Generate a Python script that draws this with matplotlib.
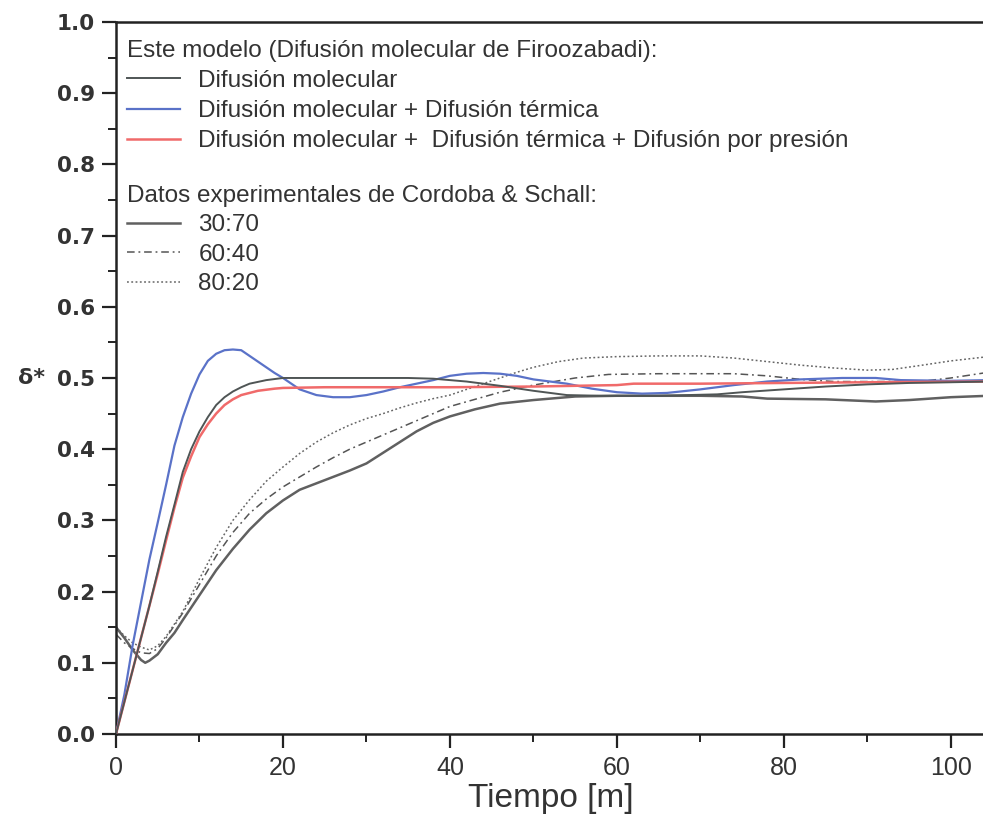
import matplotlib
matplotlib.use("Agg")
import matplotlib.pyplot as plt
from matplotlib.ticker import MultipleLocator

# ---------------- data ----------------
x_mol = [0, 1, 2, 3, 4, 5, 6, 7, 8, 9, 10, 11, 12, 13, 14, 15, 16, 18, 20, 25, 30, 35, 38,
         42, 46, 50, 54, 58, 65, 72, 75, 80, 85, 90, 95, 100, 104.5]
y_mol = [0, 0.045, 0.09, 0.135, 0.18, 0.228, 0.277, 0.322, 0.368, 0.4, 0.425, 0.445, 0.462,
         0.473, 0.481, 0.487, 0.492, 0.497, 0.5, 0.5, 0.5, 0.5, 0.499,
         0.495, 0.489, 0.482, 0.476, 0.475, 0.475, 0.477, 0.48, 0.484, 0.488, 0.491, 0.493, 0.494, 0.495]

x_term = [0, 1, 2, 3, 4, 5, 6, 7, 8, 9, 10, 11, 12, 13, 14, 15, 16, 17, 18, 19, 20, 22, 24, 26,
          28, 30, 32, 34, 36, 38, 40, 42, 44, 46, 48, 50, 54, 57, 60, 63, 66, 70, 74, 78, 82,
          87, 91, 94, 100, 104.5]
y_term = [0, 0.055, 0.125, 0.185, 0.245, 0.297, 0.35, 0.405, 0.445, 0.478, 0.505, 0.524, 0.534,
          0.539, 0.54, 0.539, 0.531, 0.523, 0.515, 0.507, 0.5, 0.484, 0.476, 0.473, 0.473, 0.476,
          0.481, 0.487, 0.492, 0.497, 0.503, 0.506, 0.507, 0.506, 0.503, 0.498, 0.492, 0.485,
          0.48, 0.478, 0.479, 0.484, 0.49, 0.495, 0.498, 0.5, 0.5, 0.497, 0.496, 0.497]

x_pres = [0, 1, 2, 3, 4, 5, 6, 7, 8, 9, 10, 11, 12, 13, 14, 15, 16, 17, 19, 20, 25, 30, 40, 50,
          60, 62, 70, 80, 90, 104.5]
y_pres = [0, 0.045, 0.09, 0.135, 0.18, 0.225, 0.272, 0.318, 0.36, 0.39, 0.417, 0.435, 0.45,
          0.462, 0.47, 0.476, 0.479, 0.482, 0.485, 0.486, 0.487, 0.487, 0.487, 0.488,
          0.49, 0.492, 0.492, 0.493, 0.494, 0.495]

x_e3070 = [0, 1, 2, 3, 3.5, 4, 5, 6, 7, 8, 10, 12, 14, 16, 18, 20, 22, 24, 26, 28, 30, 32, 34,
           36, 38, 40, 43, 46, 50, 55, 60, 70, 75, 78, 85, 91, 95, 100, 104.5]
y_e3070 = [0.15, 0.135, 0.118, 0.104, 0.1, 0.103, 0.112, 0.128, 0.142, 0.16, 0.195, 0.23,
           0.26, 0.287, 0.31, 0.328, 0.343, 0.352, 0.361, 0.37, 0.38, 0.395, 0.41, 0.425,
           0.437, 0.446, 0.456, 0.464, 0.469, 0.474, 0.475, 0.475, 0.474, 0.471, 0.47, 0.467,
           0.469, 0.473, 0.475]

x_e6040 = [0, 1, 2, 3, 4, 5, 6, 8, 10, 12, 14, 16, 18, 20, 22, 24, 26, 28, 30, 32, 34, 36, 38,
           40, 43, 46, 50, 55, 59, 65, 70, 74, 78, 82, 86, 92, 97, 100, 104.5]
y_e6040 = [0.14, 0.128, 0.12, 0.114, 0.113, 0.12, 0.135, 0.17, 0.21, 0.25, 0.283, 0.31,
           0.33, 0.347, 0.361, 0.375, 0.388, 0.4, 0.41, 0.42, 0.43, 0.44, 0.45, 0.46, 0.47,
           0.48, 0.49, 0.5, 0.505, 0.506, 0.506, 0.506, 0.503, 0.498, 0.495, 0.495, 0.496,
           0.5, 0.508]

x_e8020 = [0, 1, 2, 3, 4, 5, 6, 8, 10, 12, 14, 16, 18, 20, 22, 24, 26, 28, 30, 32, 34, 36, 38,
           40, 43, 46, 48, 50, 53, 56, 60, 65, 70, 74, 78, 82, 86, 90, 93, 96, 100, 104.5]
y_e8020 = [0.15, 0.138, 0.128, 0.122, 0.118, 0.124, 0.137, 0.172, 0.218, 0.262, 0.3, 0.329,
           0.355, 0.375, 0.394, 0.41, 0.423, 0.434, 0.443, 0.45, 0.458, 0.465, 0.471, 0.476,
           0.488, 0.5, 0.508, 0.515, 0.523, 0.528, 0.53, 0.531, 0.531, 0.528, 0.523, 0.518,
           0.514, 0.511, 0.512, 0.517, 0.524, 0.53]

labels_model = ["Difusión molecular",
                "Difusión molecular + Difusión térmica",
                "Difusión molecular +  Difusión térmica + Difusión por presión"]
labels_exp = ["30:70", "60:40", "80:20"]
title_model = "Este modelo (Difusión molecular de Firoozabadi):"
title_exp = "Datos experimentales de Cordoba & Schall:"
x_ticks = [0, 20, 40, 60, 80, 100]
y_ticks = [0.0, 0.1, 0.2, 0.3, 0.4, 0.5, 0.6, 0.7, 0.8, 0.9, 1.0]

narrow = "Liberation Sans"

fig = plt.figure(figsize=(9.83, 8.26), dpi=100)
ax = fig.add_axes([0.118, 0.1114, 0.885, 0.862])

h1, = ax.plot(x_mol, y_mol, color="#4f5555", lw=1.4, label=labels_model[0], zorder=4)
h2, = ax.plot(x_term, y_term, color="#5a72c8", lw=1.6, label=labels_model[1], zorder=3)
h3, = ax.plot(x_pres, y_pres, color="#f06a6a", lw=1.8, label=labels_model[2], zorder=3)
e1, = ax.plot(x_e3070, y_e3070, color="#606060", lw=1.8, label=labels_exp[0], zorder=2)
e2, = ax.plot(x_e6040, y_e6040, color="#555555", lw=1.1, ls=(0, (5, 2.5, 1.2, 2.5)),
              label=labels_exp[1], zorder=2)
e3, = ax.plot(x_e8020, y_e8020, color="#666666", lw=1.1, ls=(0, (1.2, 1.6)),
              label=labels_exp[2], zorder=2)

ax.set_xlim(0, 104.2)
ax.set_ylim(0, 1.0)
ax.set_xticks(x_ticks)
ax.set_yticks(y_ticks)
ax.set_yticklabels([f"{v:.1f}" for v in y_ticks])
ax.xaxis.set_minor_locator(MultipleLocator(10))
ax.yaxis.set_minor_locator(MultipleLocator(0.05))
ax.tick_params(axis="both", which="major", direction="out", length=10, width=1.6, color="#222222")
ax.tick_params(axis="both", which="minor", direction="out", length=6, width=1.4, color="#222222")
ax.tick_params(top=False, right=False, which="both")
for lab in ax.get_yticklabels():
    lab.set_fontfamily("DejaVu Sans")
    lab.set_fontweight("bold")
    lab.set_fontsize(15.5)
    lab.set_color("#333333")
for lab in ax.get_xticklabels():
    lab.set_fontfamily(narrow)
    lab.set_fontsize(18)
    lab.set_color("#333333")
ax.tick_params(axis="x", pad=6)
ax.tick_params(axis="y", pad=5)

for s in ax.spines.values():
    s.set_linewidth(1.8)
    s.set_color("#222222")

ax.set_xlabel("Tiempo [m]", fontsize=24, family=narrow, color="#333333", labelpad=2)
ax.set_ylabel("δ*", fontsize=16, rotation=0, family="DejaVu Sans", fontweight="bold",
              color="#333333", va="center", ha="center")
ax.yaxis.set_label_coords(-0.097, 0.5)

fp = {"family": narrow, "size": 17.5}
leg1 = ax.legend(handles=[h1, h2, h3], loc="upper left", bbox_to_anchor=(0.004, 0.985),
                 frameon=False, prop=fp, title=title_model, title_fontproperties=fp,
                 handlelength=2.2, handletextpad=0.75, labelspacing=0.33,
                 borderaxespad=0.0, borderpad=0.3)
leg1._legend_box.align = "left"
for t in leg1.get_texts():
    t.set_color("#333333")
leg1.get_title().set_color("#333333")
ax.add_artist(leg1)

leg2 = ax.legend(handles=[e1, e2, e3], loc="upper left", bbox_to_anchor=(0.004, 0.781),
                 frameon=False, prop=fp, title=title_exp, title_fontproperties=fp,
                 handlelength=2.2, handletextpad=0.75, labelspacing=0.3,
                 borderaxespad=0.0, borderpad=0.3)
leg2._legend_box.align = "left"
for t in leg2.get_texts():
    t.set_color("#333333")
leg2.get_title().set_color("#333333")

fig.savefig("out.png", dpi=100)
